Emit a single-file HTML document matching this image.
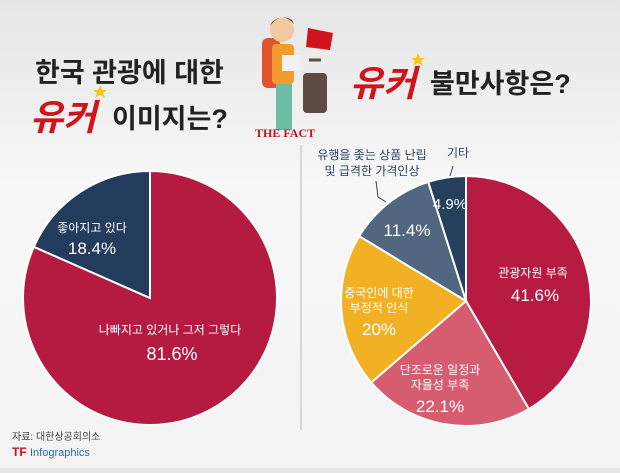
<!DOCTYPE html>
<html><head><meta charset="utf-8"><style>
body{margin:0;width:620px;height:468px;overflow:hidden;background:linear-gradient(#e6e6e6,#f7f7f7 40%,#f3f3f3);font-family:"Liberation Sans","Noto Sans CJK KR",sans-serif}
</style></head><body>
<svg width="620" height="468" xmlns="http://www.w3.org/2000/svg" style="font-family:'Liberation Sans','Noto Sans CJK KR',sans-serif">
<text x="35" y="82" font-size="27" font-weight="bold" fill="#222">한국 관광에 대한</text>
<text x="30" y="130" font-size="36" font-weight="bold" fill="#d0141c" font-style="italic">유커</text>
<text x="112" y="128" font-size="27" font-weight="bold" fill="#222">이미지는?</text>
<text x="350" y="96" font-size="36" font-weight="bold" fill="#d0141c" font-style="italic">유커</text>
<text x="430" y="93" font-size="27" font-weight="bold" fill="#222">불만사항은?</text>
<polygon points="100,85 102,90 107,90 103,93 105,98 100,95 95,98 97,93 93,90 98,90" fill="#f5c518"/>
<polygon points="418,53 420,58 425,58 421,61 423,66 418,63 413,66 415,61 411,58 416,58" fill="#f5c518"/>
<!-- character -->
<rect x="262" y="38" width="18" height="50" rx="6" fill="#e0532c"/>
<circle cx="282" cy="30" r="12" fill="#f1c9a0"/>
<path d="M270 26 Q282 10 294 24 L292 20 Q282 14 272 22Z" fill="#5b3a22"/>
<rect x="272" y="44" width="22" height="40" rx="4" fill="#f39a2c"/>
<rect x="276" y="84" width="16" height="46" fill="#6dbda5"/>
<rect x="282" y="55" width="18" height="16" fill="#f1f1f1"/>
<rect x="303" y="73" width="24" height="40" rx="4" fill="#5d4b44"/>
<line x1="309" y1="60" x2="321" y2="60" stroke="#5d4b44" stroke-width="3"/>
<polygon points="308,28 333,33 330,50 306,47" fill="#d0141c"/>
<text x="255" y="137" font-size="12" font-weight="bold" fill="#c3141c" font-family="Liberation Serif,serif">THE FACT</text>
<line x1="301" y1="145" x2="301" y2="430" stroke="#bbb"/>
<!-- left pie -->
<path d="M150,298 L150,171 A127,127 0 1,1 33.8,246.8 Z" fill="#b51a40" stroke="#fff" stroke-width="2"/>
<path d="M150,298 L150,171 A127,127 0 0,0 33.8,246.8 Z" fill="#233b5c" stroke="#fff" stroke-width="2"/>
<text x="92" y="232" font-size="12" fill="#fff" text-anchor="middle">좋아지고 있다</text>
<text x="92" y="254" font-size="17" fill="#fff" text-anchor="middle">18.4%</text>
<text x="170" y="334" font-size="12" fill="#fff" text-anchor="middle">나빠지고 있거나 그저 그렇다</text>
<text x="172" y="360" font-size="18" fill="#fff" text-anchor="middle">81.6%</text>
<!-- right pie -->
<g stroke="#fff" stroke-width="2">
<path d="M466,301 L466,176 A125,125 0 0,1 528.9,409 Z" fill="#b81b42"/>
<path d="M466,301 L528.9,409 A125,125 0 0,1 371.2,382.5 Z" fill="#d55d6f"/>
<path d="M466,301 L371.2,382.5 A125,125 0 0,1 359.2,236.1 Z" fill="#f2b024"/>
<path d="M466,301 L359.2,236.1 A125,125 0 0,1 428.2,181.9 Z" fill="#51667f"/>
<path d="M466,301 L428.2,181.9 A125,125 0 0,1 466,176 Z" fill="#263f5d"/>
</g>
<text x="533" y="277" font-size="12" fill="#fff" text-anchor="middle">관광자원 부족</text>
<text x="535" y="301" font-size="17" fill="#fff" text-anchor="middle">41.6%</text>
<text x="440" y="374" font-size="12" fill="#fff" text-anchor="middle">단조로운 일정과</text>
<text x="440" y="389" font-size="12" fill="#fff" text-anchor="middle">자율성 부족</text>
<text x="440" y="412" font-size="17" fill="#fff" text-anchor="middle">22.1%</text>
<text x="379" y="297" font-size="12" fill="#fff" text-anchor="middle">중국인에 대한</text>
<text x="379" y="312" font-size="12" fill="#fff" text-anchor="middle">부정적 인식</text>
<text x="379" y="335" font-size="17" fill="#fff" text-anchor="middle">20%</text>
<text x="407" y="236" font-size="17" fill="#fff" text-anchor="middle">11.4%</text>
<text x="450" y="209" font-size="15" fill="#fff" text-anchor="middle">4.9%</text>
<text x="372" y="159" font-size="12" fill="#2d4462" text-anchor="middle">유행을 좇는 상품 난립</text>
<text x="372" y="175" font-size="12" fill="#2d4462" text-anchor="middle">및 급격한 가격인상</text>
<text x="458" y="157" font-size="12" fill="#2d4462" text-anchor="middle">기타</text>
<polyline points="376,181 378,197 386,202" fill="none" stroke="#2d4462"/>
<polyline points="453,166 450,176" fill="none" stroke="#2d4462"/>
<text x="12" y="440" font-size="10" fill="#444">자료: 대한상공회의소</text>
<text x="12" y="456" font-size="12" font-weight="bold" fill="#c3141c">TF</text>
<text x="30" y="456" font-size="11" fill="#2b6cb0">Infographics</text>
</svg>
</body></html>
